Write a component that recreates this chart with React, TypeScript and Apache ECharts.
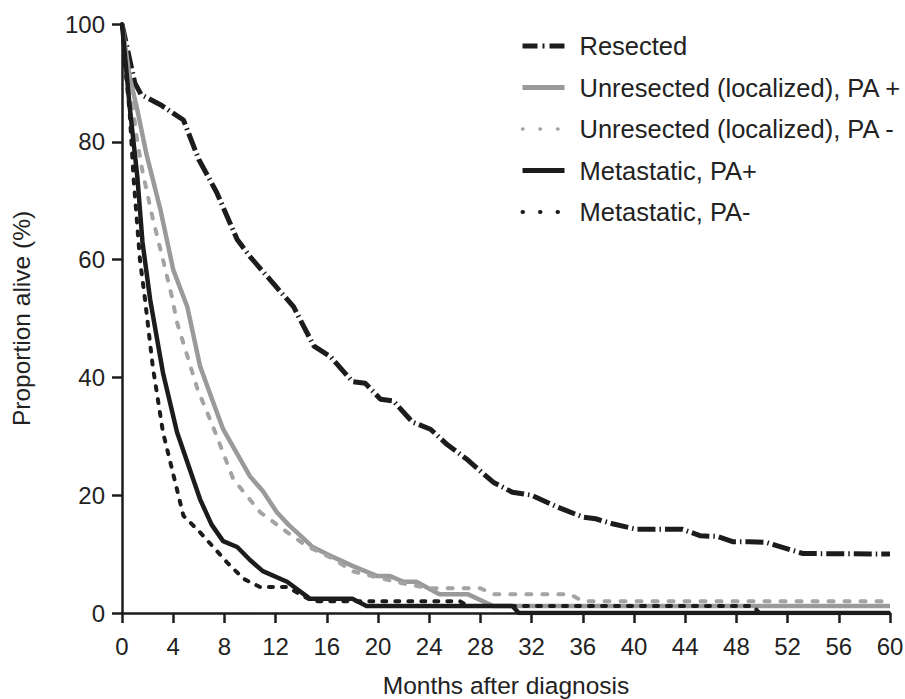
import React, { useEffect, useRef } from "react";
import * as echarts from "echarts";

const seriesNames = [
  "Resected",
  "Unresected (localized), PA +",
  "Unresected (localized), PA -",
  "Metastatic, PA+",
  "Metastatic, PA-",
];

const resectedMonths = [0, 0.5, 1, 1.5, 3, 4.8, 6, 7.4, 9, 10, 11.8, 13.4, 15, 16.3, 18, 19, 20.2, 21.2, 22.7, 24.1, 25.4, 27, 29, 30.5, 32, 34, 36, 37, 38.4, 40.2, 43.8, 45.2, 46.5, 47.7, 49, 50.3, 53.2, 60];
const resectedPct = [100, 95, 90, 88, 86.3, 83.7, 77, 71.4, 63.4, 60.5, 56, 52, 45.3, 43.5, 39.3, 39, 36.3, 36, 32.4, 31.2, 28.6, 26, 22.2, 20.5, 20, 18, 16.3, 16, 15.1, 14.2, 14.2, 13.1, 13, 12.1, 12.1, 12, 10.1, 10];

const unresPosMonths = [0, 0.6, 1.2, 1.9, 3, 4, 5.1, 6.1, 7, 7.9, 9, 10, 11, 12.1, 13, 14, 14.9, 16, 18, 19.9, 20.9, 22, 23, 24.8, 27, 29, 60];
const unresPosPct = [100, 91, 85.4, 78, 68.5, 58.3, 52, 41.9, 36.5, 31.2, 27, 23.2, 20.7, 17.1, 15, 13, 11.2, 10, 8, 6.3, 6.3, 5.3, 5.3, 3.2, 3.2, 1.2, 1.2];

const unresNegMonths = [0, 0.6, 1.2, 1.6, 2.4, 3.2, 3.9, 4.3, 5.9, 7.1, 8.7, 10.8, 12.6, 14.4, 16.5, 18, 20, 22, 24, 25.1, 28, 29, 35, 36, 60];
const unresNegPct = [100, 90, 80, 75, 67, 60, 53.7, 49.3, 38, 31.7, 22.7, 17.1, 14.2, 11.4, 9.2, 7.1, 6, 5, 4.2, 4.2, 4.2, 3.2, 3.2, 2, 2];

const metaPosMonths = [0, 0.6, 1.2, 1.6, 2.2, 3.2, 4.3, 6.1, 7, 7.9, 9, 10, 11, 12.9, 14.7, 18, 19.1, 30.5, 31, 60];
const metaPosPct = [100, 86, 74, 63, 53.2, 40.8, 30.7, 19.3, 15, 12.2, 11.2, 9, 7.1, 5.3, 2.4, 2.4, 1.2, 1.2, 0, 0];

const metaNegMonths = [0, 0.2, 0.6, 0.9, 1.4, 1.8, 2.4, 3.2, 4.8, 6.1, 8.2, 9.5, 10.8, 12.9, 13.9, 14.9, 26.4, 27, 49.3, 49.8, 60];
const metaNegPct = [100, 94, 85, 74, 60, 53.2, 41.9, 30.7, 16.5, 13.7, 8.6, 5.8, 4.4, 4.4, 3.2, 2, 2, 1.2, 1.2, 0, 0];

const zip = (xs: number[], ys: number[]) => xs.map((x, i) => [x, ys[i]]);

const FONT = "'Liberation Sans', Arial, Helvetica, sans-serif";
const TEXT = "#222";
const BLACK = "#1c1c1c";
const GRAY = "#9a9a9a";
const GRAY2 = "#a3a3a3";

export default function App() {
  const ref = useRef<HTMLDivElement>(null);
  useEffect(() => {
    if (!ref.current) return;
    const chart = echarts.init(ref.current, undefined, { renderer: "svg" });
    const mk = (name: string, data: number[][], color: string, width: number, type: any, cap: any) => ({
      name,
      type: "line",
      data,
      showSymbol: false,
      symbol: "none",
      color,
      lineStyle: { color, width, type, cap, join: "round" },
      emphasis: { disabled: true },
    });
    const legendStyles = [
      { color: BLACK, width: 5, type: [15, 5, 2, 5], cap: "butt" },
      { color: GRAY, width: 5, type: "solid", cap: "butt" },
      { color: GRAY2, width: 3.5, type: [0.5, 17], cap: "round" },
      { color: BLACK, width: 5, type: "solid", cap: "butt" },
      { color: BLACK, width: 4, type: [0.5, 17], cap: "round" },
    ];
    chart.setOption({
      animation: false,
      textStyle: { fontFamily: FONT },
      grid: { left: 122, right: 15, top: 24, bottom: 86, outerBoundsMode: "none", containLabel: false },
      legend: {
        orient: "vertical",
        left: 515,
        top: 28,
        itemWidth: 42,
        itemHeight: 14,
        itemGap: 15.5,
        itemStyle: { opacity: 0 },
        textStyle: { fontSize: 25.5, color: TEXT, fontFamily: FONT, lineHeight: 25, padding: [0, 0, 0, 10] },
        data: seriesNames.map((n, i) => ({ name: n, lineStyle: legendStyles[i] })),
      },
      xAxis: {
        type: "value",
        min: 0,
        max: 60,
        interval: 4,
        name: "Months after diagnosis",
        nameLocation: "middle",
        nameGap: 60,
        nameTextStyle: { fontSize: 24.5, color: TEXT, fontFamily: FONT },
        axisLine: { lineStyle: { color: BLACK, width: 2.5 } },
        axisTick: { length: 10, lineStyle: { color: BLACK, width: 2.5 } },
        axisLabel: { fontSize: 24, color: TEXT, margin: 21, fontFamily: FONT },
        splitLine: { show: false },
      },
      yAxis: {
        type: "value",
        min: 0,
        max: 100,
        interval: 20,
        name: "Proportion alive (%)",
        nameLocation: "middle",
        nameGap: 88,
        nameTextStyle: { fontSize: 24.5, color: TEXT, fontFamily: FONT },
        axisLine: { show: true, lineStyle: { color: BLACK, width: 2.5 } },
        axisTick: { show: true, length: 10, lineStyle: { color: BLACK, width: 2.5 } },
        axisLabel: { fontSize: 24, color: TEXT, margin: 17, fontFamily: FONT },
        splitLine: { show: false },
      },
      series: [
        mk(seriesNames[0], zip(resectedMonths, resectedPct), BLACK, 5, [18, 4, 1.5, 4], "butt"),
        mk(seriesNames[1], zip(unresPosMonths, unresPosPct), GRAY, 4.5, "solid", "butt"),
        mk(seriesNames[2], zip(unresNegMonths, unresNegPct), GRAY2, 4, [5, 11], "round"),
        mk(seriesNames[3], zip(metaPosMonths, metaPosPct), BLACK, 4.5, "solid", "butt"),
        mk(seriesNames[4], zip(metaNegMonths, metaNegPct), BLACK, 4, [4, 9], "round"),
      ],
    });
    return () => chart.dispose();
  }, []);
  return (
    <div
      ref={ref}
      style={{ position: "fixed", left: 0, top: 0, width: 905, height: 699, background: "#fff" }}
    />
  );
}
